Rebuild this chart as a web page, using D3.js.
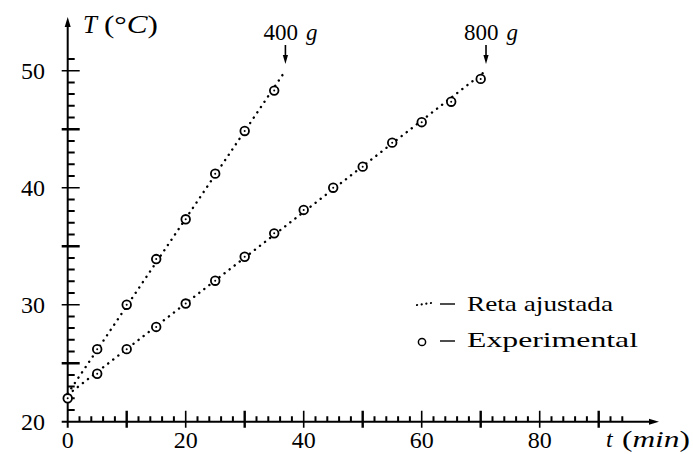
<!DOCTYPE html>
<html>
<head>
<meta charset="utf-8">
<script src="https://cdn.jsdelivr.net/npm/d3@7/dist/d3.min.js"></script>
<style>
  html, body { margin: 0; padding: 0; background: #fff; }
  svg { display: block; }
  text { font-family: "Liberation Serif", "Times New Roman", serif; fill: #000; }
</style>
</head>
<body>
<svg id="chart" width="693" height="454"></svg>
<script>
// ---- data ----
const times = [0, 5, 10, 15, 20, 25, 30, 35, 40, 45, 50, 55, 60, 65, 70];
const temp400 = [22.0, 26.2, 30.0, 33.9, 37.3, 41.2, 44.85, 48.3];
const temp800 = [22.0, 24.1, 26.2, 28.1, 30.1, 32.05, 34.1, 36.1, 38.1, 40.0, 41.8, 43.85, 45.6, 47.35, 49.3];
// fitted lines (Reta ajustada): endpoints [t, T]
const fit400 = [[0, 22.4], [36.9, 50]];
const fit800 = [[0, 22.3], [70.9, 50]];
const xTickLabels = [0, 20, 40, 60, 80];
const yTickLabels = [20, 30, 40, 50];
const seriesLabels = ["400 g", "800 g"];
const legendLabels = ["Reta ajustada", "Experimental"];

const svg = d3.select("#chart");
const x = d3.scaleLinear().domain([0, 80]).range([67.7, 539.7]);
const y = d3.scaleLinear().domain([20, 50]).range([421.7, 70.7]);
const x0 = x(0), y0 = y(20);

// ---- axes ----
svg.append("line").attr("x1", x0).attr("x2", x0).attr("y1", y0 + 6).attr("y2", 24)
  .attr("stroke", "#000").attr("stroke-width", 2);
svg.append("path").attr("d", `M${x0},17 L${x0 - 3},27 L${x0 + 3},27 Z`).attr("fill", "#000");
svg.append("line").attr("x1", x0 - 6).attr("x2", 652).attr("y1", y0).attr("y2", y0)
  .attr("stroke", "#000").attr("stroke-width", 2);
svg.append("path").attr("d", `M659,${y0} L649,${y0 - 3} L649,${y0 + 3} Z`).attr("fill", "#000");

// y ticks: minor (every 1), medium (10s), heavy (odd 5s)
const yAll = d3.range(21, 52, 1);
const yMinor = yAll.filter(d => d % 5 !== 0);
const yTen = yAll.filter(d => d % 10 === 0);
const yFive = yAll.filter(d => d % 5 === 0 && d % 10 !== 0);
svg.append("path").attr("d", yMinor.map(d => `M${x0},${y(d)}h7`).join(""))
  .attr("stroke", "#000").attr("stroke-width", 2).attr("fill", "none");
svg.append("path").attr("d", yTen.map(d => `M${x0 - 6},${y(d)}h18`).join(""))
  .attr("stroke", "#000").attr("stroke-width", 1.6).attr("fill", "none");
svg.append("path").attr("d", yFive.map(d => `M${x0 - 6},${y(d)}h18`).join(""))
  .attr("stroke", "#000").attr("stroke-width", 2.6).attr("fill", "none");

// x ticks
const xAll = d3.range(2, 95, 2);
const xMinor = xAll.filter(d => d % 10 !== 0);
const xTwenty = xAll.filter(d => d % 20 === 0);
const xTen = xAll.filter(d => d % 10 === 0 && d % 20 !== 0);
svg.append("path").attr("d", xMinor.map(d => `M${x(d)},${y0}v-5.5`).join(""))
  .attr("stroke", "#000").attr("stroke-width", 2).attr("fill", "none");
svg.append("path").attr("d", xTwenty.map(d => `M${x(d)},${y0 + 6}v-17`).join(""))
  .attr("stroke", "#000").attr("stroke-width", 1.6).attr("fill", "none");
svg.append("path").attr("d", xTen.map(d => `M${x(d)},${y0 + 6}v-17`).join(""))
  .attr("stroke", "#000").attr("stroke-width", 2.4).attr("fill", "none");

// tick labels
svg.selectAll("text.yl").data(yTickLabels).join("text").attr("class", "yl")
  .attr("x", 45).attr("y", d => y(d) + 8)
  .attr("text-anchor", "end").attr("font-size", 24)
  .text(d => d);
svg.selectAll("text.xl").data(xTickLabels).join("text").attr("class", "xl")
  .attr("x", d => x(d)).attr("y", 448)
  .attr("text-anchor", "middle").attr("font-size", 24)
  .text(d => d);

// axis titles
svg.append("text").attr("x", 83).attr("y", 33).attr("font-size", 25)
  .attr("font-style", "italic").text("T");
const tT = svg.append("text").attr("x", 104).attr("y", 33).attr("font-size", 25)
  .attr("textLength", 54).attr("lengthAdjust", "spacingAndGlyphs");
tT.append("tspan").text("(°");
tT.append("tspan").attr("font-style", "italic").text("C");
tT.append("tspan").text(")");

svg.append("text").attr("x", 606).attr("y", 447).attr("font-size", 24)
  .attr("font-style", "italic").text("t");
const tX = svg.append("text").attr("x", 622).attr("y", 447).attr("font-size", 24)
  .attr("textLength", 68).attr("lengthAdjust", "spacingAndGlyphs");
tX.append("tspan").text("(");
tX.append("tspan").attr("font-style", "italic").text("min");
tX.append("tspan").text(")");

// ---- fitted lines ----
const line = d3.line().x(d => x(d[0])).y(d => y(d[1]));
[fit400, fit800].forEach(f => {
  svg.append("path").attr("d", line(f))
    .attr("fill", "none").attr("stroke", "#000")
    .attr("stroke-width", 2.4).attr("stroke-linecap", "round")
    .attr("stroke-dasharray", "0.1 6.3");
});

// ---- experimental points ----
const pts = [];
temp400.forEach((v, i) => pts.push([times[i], v]));
temp800.forEach((v, i) => { if (i > 0) pts.push([times[i], v]); });
const pg = svg.append("g");
pg.selectAll("circle.o").data(pts).join("circle").attr("class", "o")
  .attr("cx", d => x(d[0])).attr("cy", d => y(d[1])).attr("r", 4.3)
  .attr("fill", "#fff").attr("stroke", "#000").attr("stroke-width", 1.8);
pg.selectAll("circle.c").data(pts).join("circle").attr("class", "c")
  .attr("cx", d => x(d[0])).attr("cy", d => y(d[1])).attr("r", 1)
  .attr("fill", "#000");

// ---- series labels with arrows ----
const labelPos = [fit400[1], fit800[1]];
labelPos.forEach((p, i) => {
  const px = x(p[0]);
  const parts = seriesLabels[i].split(" ");
  const t = svg.append("text").attr("x", px - 22).attr("y", 40).attr("font-size", 23);
  t.append("tspan").text(parts[0]);
  t.append("tspan").attr("dx", 8).attr("font-style", "italic").text(parts[1]);
  svg.append("line").attr("x1", px).attr("x2", px).attr("y1", 45).attr("y2", 57)
    .attr("stroke", "#000").attr("stroke-width", 1.6);
  svg.append("path").attr("d", `M${px},64 L${px - 2.6},55 L${px + 2.6},55 Z`).attr("fill", "#000");
});

// ---- legend ----
const lg = svg.append("g");
lg.append("line").attr("x1", 417).attr("x2", 431).attr("y1", 305).attr("y2", 303)
  .attr("stroke", "#000").attr("stroke-width", 2.2).attr("stroke-linecap", "round")
  .attr("stroke-dasharray", "0.1 4.6");
lg.append("circle").attr("cx", 422).attr("cy", 342).attr("r", 3.6)
  .attr("fill", "none").attr("stroke", "#000").attr("stroke-width", 1.5);
[304, 341].forEach(yy => lg.append("line").attr("x1", 440).attr("x2", 455)
  .attr("y1", yy).attr("y2", yy).attr("stroke", "#000").attr("stroke-width", 1.4));
const legendWidths = [146, 171];
lg.selectAll("text.lg").data(legendLabels).join("text").attr("class", "lg")
  .attr("x", 467).attr("y", (d, i) => i === 0 ? 311 : 347)
  .attr("font-size", 22)
  .attr("textLength", (d, i) => legendWidths[i])
  .attr("lengthAdjust", "spacingAndGlyphs")
  .text(d => d);
</script>
</body>
</html>
